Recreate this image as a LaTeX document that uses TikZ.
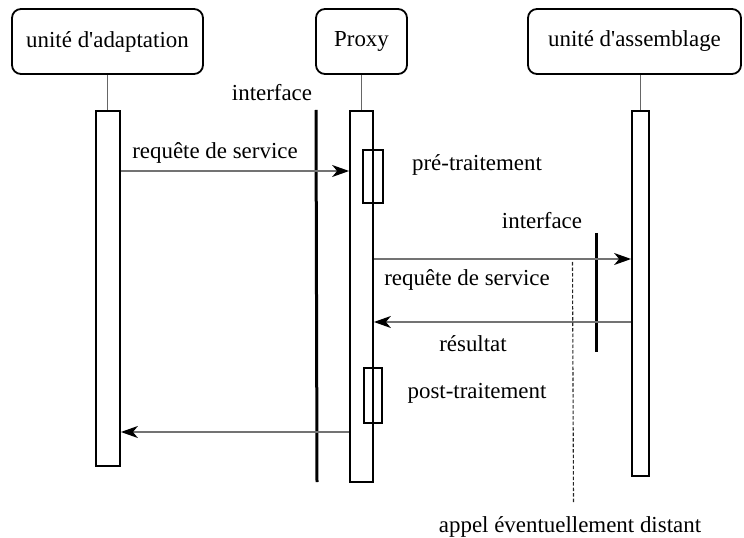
\documentclass[tikz,border=0pt]{standalone}
\usepackage{fontspec}
\setmainfont{Liberation Serif}[Ligatures=TeXOff]
\newfontfamily\tnr{Liberation Serif}[Ligatures=TeXOff]
\usetikzlibrary{arrows.meta}
\begin{document}
\begin{tikzpicture}[x=1bp,y=-1bp,
  headbox/.style={draw, line width=1.8bp, rounded corners=9bp, minimum height=65bp, inner sep=0pt, font=\tnr\fontsize{23}{26}\selectfont},
  actbar/.style={draw, line width=1.8bp, fill=white, inner sep=0pt},
  subbox/.style={draw, line width=1.5bp, inner sep=0pt},
  lifeline/.style={draw=black!60, line width=1bp},
  msg/.style={draw=black!55, line width=1.3bp, -{Stealth[length=17bp,width=12bp,inset=5bp,color=black]}},
  iface/.style={line width=3bp},
  lbl/.style={font=\tnr\fontsize{23}{26}\selectfont, inner sep=0pt},
  remote/.style={draw=black!85, line width=1.1bp, dash pattern=on 3.5bp off 2bp}
]
\useasboundingbox (0,0) rectangle (744,538);

% heads
\node[headbox, minimum width=191bp] (ua) at (107.5,41.5) {unité d'adaptation};
\node[headbox, minimum width=91bp] (px) at (361.5,41.5) {Proxy};
\node[headbox, minimum width=213bp] (uas) at (634.5,41.5) {unité d'assemblage};

% activation bars
\node[actbar, minimum width=24bp, minimum height=355bp] (b1) at (108,288.5) {};
\node[actbar, minimum width=23bp, minimum height=371bp] (b2) at (361.5,296.5) {};
\node[actbar, minimum width=17bp, minimum height=365bp] (b3) at (640.5,293.5) {};

% lifelines
\draw[lifeline] (ua.south) -- (ua.south |- b1.north);
\draw[lifeline] (px.south) -- (px.south |- b2.north);
\draw[lifeline] (uas.south -| b3.north) -- (b3.north);

% sub boxes
\node[subbox, minimum width=20bp, minimum height=53bp] (pre) at (373,176.5) {};
\node[subbox, minimum width=18bp, minimum height=55bp] (post) at (373,395.5) {};

% interfaces
\coordinate (i1t) at (316,110);
\coordinate (i1b) at (317,482);
\coordinate (i2t) at (596,233);
\coordinate (i2b) at (596,352);
\draw[iface] (i1t) -- (i1b);
\draw[iface] (i2t) -- (i2b);

% messages
\draw[msg] (b1.east |- 0,171) -- (b2.west |- 0,171);
\draw[msg] (b2.east |- 0,259) -- (b3.west |- 0,259);
\draw[msg] (b3.west |- 0,322) -- (b2.east |- 0,322);
\draw[msg] (b2.west |- 0,432) -- (b1.east |- 0,432);

% remote call
\coordinate (rt) at (572.5,262);
\coordinate (rb) at (573.5,503);
\draw[remote] (rt) -- (rb);

% labels
\node[lbl] (l1) at (272,93) {interface};
\node[lbl] (l2) at (215,153) {requête de service};
\node[lbl] (l3) at (477,165) {pré-traitement};
\node[lbl] (l4) at (542,221) {interface};
\node[lbl] (l5) at (467,280) {requête de service};
\node[lbl] (l6) at (473,344) {résultat};
\node[lbl] (l7) at (477,393) {post-traitement};
\node[lbl] (l8) at (570,527) {appel éventuellement distant};
\end{tikzpicture}
\end{document}
